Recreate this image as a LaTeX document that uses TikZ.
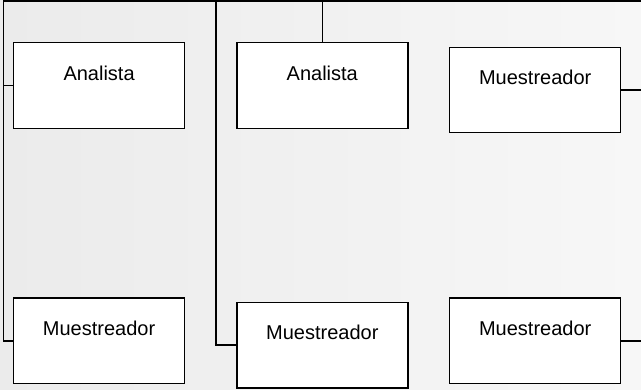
\documentclass[tikz,border=0pt]{standalone}
\usepackage{fontspec}
\setmainfont{Liberation Sans}
\definecolor{bgleft}{HTML}{EBEBEB}
\definecolor{bgright}{HTML}{F7F7F7}
\begin{document}
\begin{tikzpicture}[x=1pt,y=-1pt,
  box/.style={draw=black, fill=white, line width=1.4pt, rectangle,
    minimum width=171pt, inner xsep=0pt, inner ysep=0pt,
    text height=37.3pt, text depth=48.2pt, font=\fontsize{20}{24}\selectfont},
  conn/.style={draw=black, line width=1.5pt}]
\useasboundingbox (0,0) rectangle (641,390);
\clip (0,0) rectangle (641,390);
\shade[left color=bgleft, right color=bgright] (0,0) rectangle (641,390);
% coordinates for trunk lines
\coordinate (ltop) at (3.3,1.2);
\coordinate (mtop) at (216,1.2);
\coordinate (rtop) at (650,1.2);
\coordinate (rx) at (650,0);
% boxes
\node[box] (a1) at (99.1,85.5) {Analista};
\node[box] (a2) at (322.3,85.5) {Analista};
\node[box] (m3) at (535.2,90) {Muestreador};
\node[box] (m1) at (99.1,340.8) {Muestreador};
\node[box] (m2) at (322.3,345.2) {Muestreador};
\node[box] (m4) at (535.2,340.8) {Muestreador};
% connectors
\draw[conn, line join=miter] (m1.west) -| (ltop) -- (rtop);
\draw[conn] (a1.west) -- (a1.west -| ltop);
\draw[conn, line join=miter] (m2.west) -| (mtop);
\draw[conn] (a2.north) -- (a2.north |- ltop);
\draw[conn] (m3.east) -- (m3.east -| rx);
\draw[conn] (m4.east) -- (m4.east -| rx);
\end{tikzpicture}
\end{document}
